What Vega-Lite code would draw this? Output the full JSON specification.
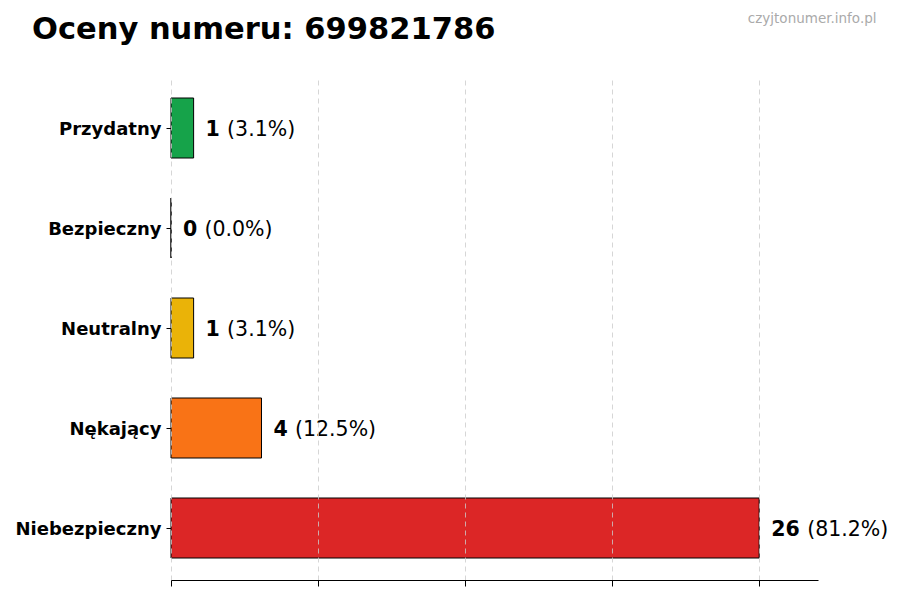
{
  "$schema": "https://vega.github.io/schema/vega-lite/v6.json",
  "autosize": "none",
  "width": 647,
  "height": 504,
  "padding": {"left": 171, "top": 76, "right": 82, "bottom": 20},
  "background": "white",
  "config": {"view": {"stroke": null}, "font": "DejaVu Sans"},
  "title": {
    "text": "Oceny numeru: 699821786",
    "anchor": "start",
    "frame": "group",
    "dx": -139,
    "dy": 74,
    "fontSize": 30.5,
    "fontWeight": "bold",
    "font": "DejaVu Sans",
    "color": "black",
    "baseline": "alphabetic",
    "offset": 16
  },
  "data": {
    "values": [
      {"kategoria": "Przydatny", "liczba": 1, "procent": "(3.1%)"},
      {"kategoria": "Bezpieczny", "liczba": 0, "procent": "(0.0%)"},
      {"kategoria": "Neutralny", "liczba": 1, "procent": "(3.1%)"},
      {"kategoria": "Nękający", "liczba": 4, "procent": "(12.5%)"},
      {"kategoria": "Niebezpieczny", "liczba": 26, "procent": "(81.2%)"}
    ]
  },
  "encoding": {
    "y": {
      "field": "kategoria",
      "type": "nominal",
      "sort": ["Przydatny", "Bezpieczny", "Neutralny", "Nękający", "Niebezpieczny"],
      "scale": {"paddingInner": 0.4, "paddingOuter": 0.22},
      "axis": {
        "title": null,
        "domain": false,
        "ticks": true,
        "tickSize": 5,
        "tickColor": "black",
        "labelFont": "DejaVu Sans",
        "labelFontSize": 18,
        "labelFontWeight": "bold",
        "labelColor": "black",
        "labelPadding": 5,
        "labelOffset": 2
      }
    }
  },
  "layer": [
    {
      "mark": {"type": "bar", "stroke": "black", "strokeWidth": 1},
      "encoding": {
        "x": {
          "field": "liczba",
          "type": "quantitative",
          "scale": {"domain": [0, 28.6], "nice": false, "zero": true},
          "axis": {
            "orient": "bottom",
            "title": null,
            "values": [0, 6.5, 13, 19.5, 26],
            "labels": false,
            "ticks": true,
            "tickSize": 6,
            "tickColor": "black",
            "domain": true,
            "domainColor": "black",
            "domainWidth": 1,
            "grid": true,
            "gridColor": "#cccccc",
            "gridDash": [5, 4],
            "gridWidth": 0.8,
            "zindex": 1
          }
        },
        "color": {
          "field": "kategoria",
          "type": "nominal",
          "legend": null,
          "scale": {
            "domain": ["Przydatny", "Bezpieczny", "Neutralny", "Nękający", "Niebezpieczny"],
            "range": ["#16a34a", "#6b7280", "#eab308", "#f97316", "#dc2626"]
          }
        },
        "fillOpacity": {"value": 1}
      }
    },
    {
      "mark": {"type": "text", "align": "left", "baseline": "middle", "dx": 12, "dy": 2, "fontSize": 20.5, "fontWeight": "bold", "font": "DejaVu Sans", "color": "black"},
      "encoding": {
        "x": {
          "field": "liczba",
          "type": "quantitative",
          "axis": {
            "orient": "top",
            "title": "czyjtonumer.info.pl",
            "titleAnchor": "end",
            "titleFont": "DejaVu Sans",
            "titleFontSize": 13.5,
            "titleFontWeight": "normal",
            "titleColor": "#aaaaaa",
            "titleX": 705,
            "titleY": -54,
            "titleAlign": "right",
            "titleBaseline": "alphabetic",
            "labels": false,
            "ticks": false,
            "domain": false,
            "grid": false
          }
        },
        "text": {"field": "liczba", "type": "quantitative"}
      }
    },
    {
      "transform": [{"filter": "datum.liczba < 10"}],
      "mark": {"type": "text", "align": "left", "baseline": "middle", "dx": 33.5, "dy": 2, "fontSize": 20.5, "font": "DejaVu Sans", "color": "black"},
      "encoding": {
        "x": {"field": "liczba", "type": "quantitative", "axis": null},
        "text": {"field": "procent", "type": "nominal"}
      }
    },
    {
      "transform": [{"filter": "datum.liczba >= 10"}],
      "mark": {"type": "text", "align": "left", "baseline": "middle", "dx": 48, "dy": 2, "fontSize": 20.5, "font": "DejaVu Sans", "color": "black"},
      "encoding": {
        "x": {"field": "liczba", "type": "quantitative", "axis": null},
        "text": {"field": "procent", "type": "nominal"}
      }
    }
  ],
  "resolve": {"axis": {"x": "independent"}}
}
